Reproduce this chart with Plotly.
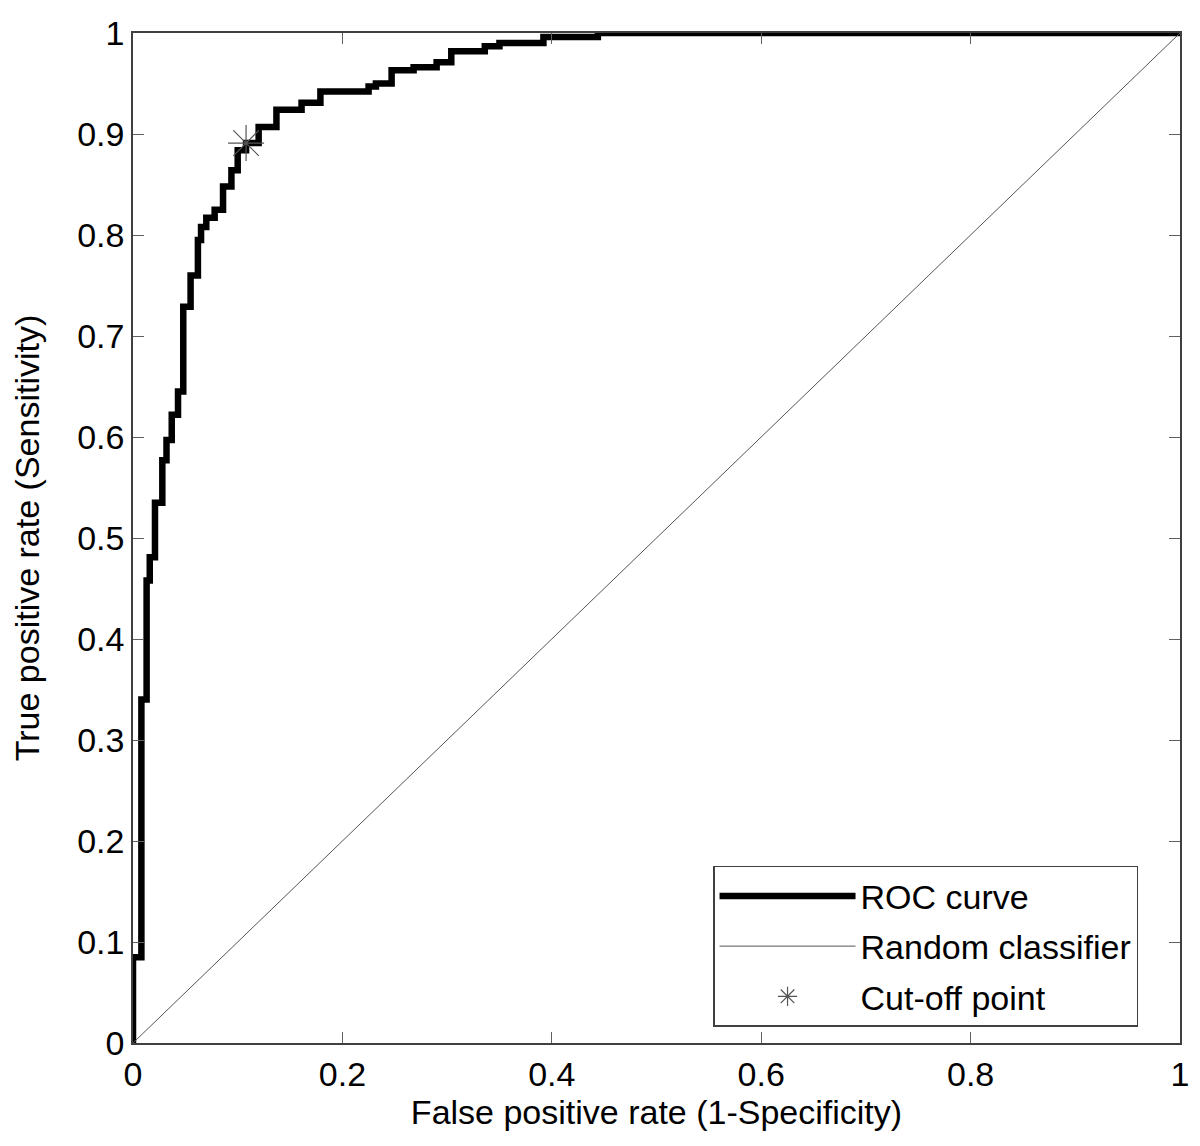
import plotly.graph_objects as go

# ROC curve vertices (step, horizontal-then-vertical)
fpr = [0, 0, 0.008, 0.013, 0.016, 0.021, 0.028, 0.032, 0.037, 0.043, 0.048,
       0.055, 0.062, 0.065, 0.070, 0.078, 0.086, 0.094, 0.100, 0.108, 0.120,
       0.137, 0.161, 0.179, 0.225, 0.232, 0.247, 0.268, 0.290, 0.304, 0.336,
       0.350, 0.392, 0.444, 1.0]
tpr = [0, 0.085, 0.340, 0.458, 0.481, 0.535, 0.577, 0.597, 0.622, 0.645, 0.729,
       0.760, 0.795, 0.808, 0.817, 0.825, 0.848, 0.864, 0.884, 0.891, 0.907,
       0.924, 0.931, 0.942, 0.947, 0.950, 0.963, 0.966, 0.971, 0.982, 0.987,
       0.990, 0.996, 1.0, 1.0]

rand_x = [0, 1]
rand_y = [0, 1]

cut_x = [0.108]
cut_y = [0.891]

x_ticks = [0, 0.2, 0.4, 0.6, 0.8, 1]
x_tick_labels = ["0", "0.2", "0.4", "0.6", "0.8", "1"]
y_ticks = [0, 0.1, 0.2, 0.3, 0.4, 0.5, 0.6, 0.7, 0.8, 0.9, 1]
y_tick_labels = ["0", "0.1", "0.2", "0.3", "0.4", "0.5", "0.6", "0.7", "0.8", "0.9", "1"]

FONT = "Liberation Sans, Arial, sans-serif"

fig = go.Figure()
fig.add_trace(go.Scatter(x=fpr, y=tpr, mode="lines", line_shape="hv",
                         line=dict(color="black", width=6.5), name="ROC curve",
                         legendgroup="a"))
fig.add_trace(go.Scatter(x=rand_x, y=rand_y, mode="lines",
                         line=dict(color="#555555", width=1), name="Random classifier",
                         legendgroup="b"))
fig.add_trace(go.Scatter(x=cut_x, y=cut_y, mode="markers",
                         marker=dict(symbol="asterisk-open", size=30, color="#555555",
                                     line=dict(color="#555555", width=1.2)),
                         name="Cut-off point", legendgroup="c"))

axis_common = dict(
    showgrid=False, zeroline=False, showline=True, linecolor="#404040", linewidth=1.5,
    mirror="ticks", ticks="inside", ticklen=11, tickcolor="#606060", tickwidth=1,
    tickfont=dict(family=FONT, size=34, color="black"), automargin=False,
)

fig.update_xaxes(range=[0, 1], tickvals=x_ticks, ticktext=x_tick_labels,
                 title=dict(text="False positive rate (1-Specificity)",
                            font=dict(family=FONT, size=34, color="black"), standoff=0),
                 **axis_common)
fig.update_yaxes(range=[0, 1], tickvals=y_ticks, ticktext=y_tick_labels,
                 title=dict(text="True positive rate (Sensitivity)",
                            font=dict(family=FONT, size=34, color="black"), standoff=30),
                 **axis_common)

fig.update_layout(
    width=1192, height=1138,
    margin=dict(l=125, r=20, t=25, b=103),
    plot_bgcolor="white", paper_bgcolor="white",
    font=dict(family=FONT, size=34, color="black"),
    legend=dict(x=0.554, y=0.016, xanchor="left", yanchor="bottom",
                bgcolor="white", bordercolor="#404040", borderwidth=1.5,
                font=dict(family=FONT, size=34, color="black"),
                itemwidth=136, tracegroupgap=3),
)

fig.write_html("out.html")
